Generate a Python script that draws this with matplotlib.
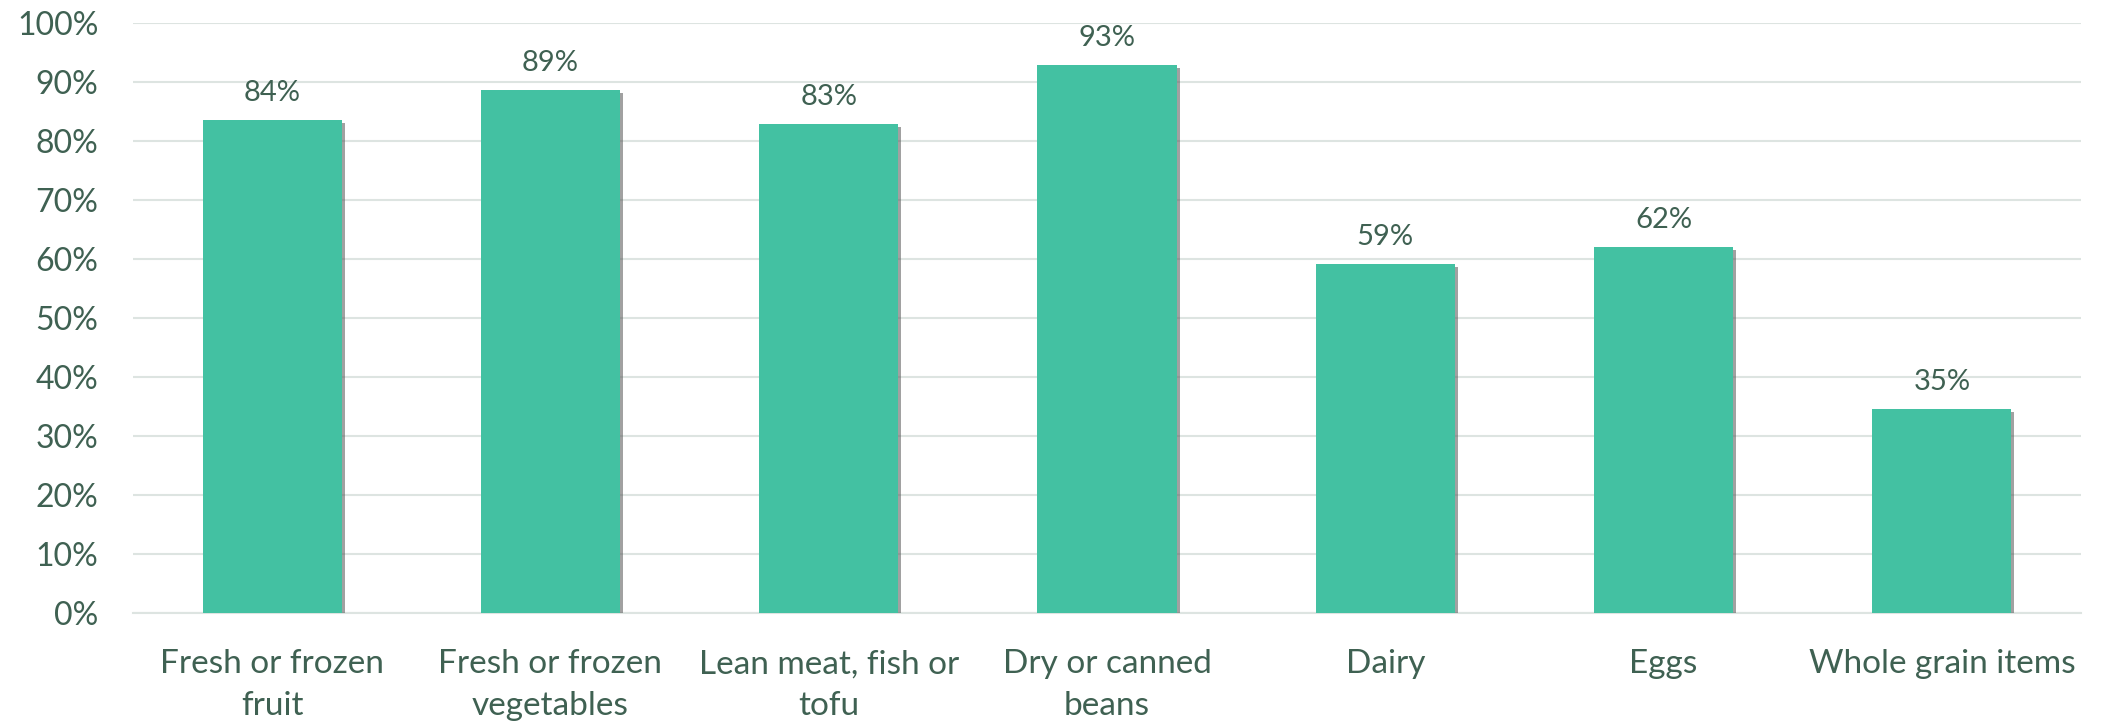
import matplotlib.pyplot as plt
import matplotlib.patheffects as pe
import numpy as np

categories = ["Fresh or frozen\nfruit", "Fresh or frozen\nvegetables", "Lean meat, fish or\ntofu",
              "Dry or canned\nbeans", "Dairy", "Eggs", "Whole grain items"]
values = [83.6, 88.6, 82.9, 92.9, 59.2, 62.1, 34.6]
labels = ["84%", "89%", "83%", "93%", "59%", "62%", "35%"]

bar_color = "#43C1A2"
text_color = "#3F6152"
grid_color = "#DDE4E1"

plt.rcParams['font.family'] = ['Lato', 'DejaVu Sans']

fig = plt.figure(figsize=(21.02, 7.23), dpi=100)
ax = fig.add_axes([133/2102, 1 - 613/723, (2081 - 133)/2102, (613 - 23)/723])

x = np.arange(len(categories))
bars = ax.bar(x, values, width=0.5, color=bar_color, zorder=3,
              path_effects=[pe.SimplePatchShadow(offset=(2.2, -2.2), shadow_rgbFace='#555555', alpha=0.55),
                            pe.Normal()])

for xi, v, lab in zip(x, values, labels):
    ax.annotate(lab, (xi, v), xytext=(0, 10), textcoords='offset points',
                ha='center', va='bottom', fontsize=21, color=text_color)

ax.set_xlim(-0.5, len(categories) - 0.5)
ax.set_ylim(0, 100)
ax.set_yticks(np.arange(0, 101, 10))
ax.set_yticklabels([f"{t}%" for t in range(0, 101, 10)])
ax.set_xticks(x)
ax.set_xticklabels(categories, linespacing=1.5)

ax.tick_params(axis='y', length=0, pad=25, labelsize=23, labelcolor=text_color)
ax.tick_params(axis='x', length=0, pad=26, labelsize=24, labelcolor=text_color)

ax.grid(axis='y', color=grid_color, linewidth=1.5, zorder=0)
for s in ['top', 'right', 'left']:
    ax.spines[s].set_visible(False)
ax.spines['bottom'].set_color(grid_color)
ax.spines['bottom'].set_linewidth(1.5)
ax.spines['bottom'].set_zorder(1)

fig.savefig("out.png", dpi=100)
